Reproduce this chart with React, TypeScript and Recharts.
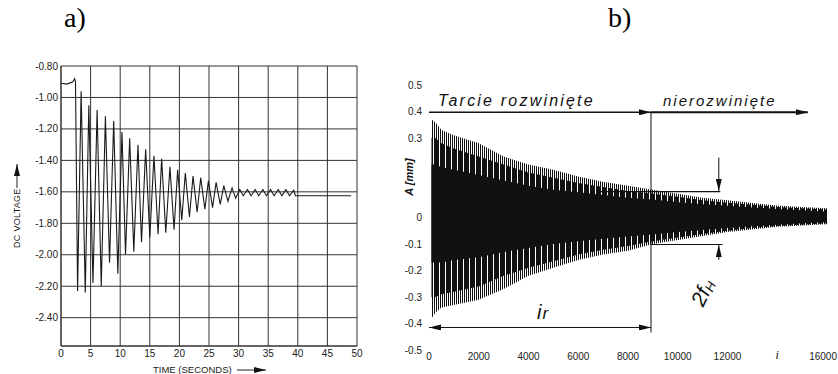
import React from 'react';
import {
  LineChart, Line, ComposedChart, Area, XAxis, YAxis, CartesianGrid,
  ReferenceLine, ReferenceDot, Label,
} from 'recharts';

// ---- panel a) : DC voltage against time (peaks / troughs read off the scan)
const aTime = [
  0, 1.0, 2.0, 2.3, 2.45,
  2.8, 3.4, 4.1, 4.7, 5.4, 6.1, 6.8, 7.5, 8.2, 8.9, 9.6, 10.3, 10.9, 11.6,
  12.3, 13.0, 13.6, 14.3, 15.0, 15.7, 16.4, 17.0, 17.7, 18.4, 19.1, 19.7,
  20.4, 21.0, 21.7, 22.3, 23.0, 23.6, 24.3, 24.9, 25.6, 26.2, 26.9, 27.5,
  28.2, 28.9, 29.5, 30.2, 30.8, 31.5, 32.1, 32.8, 33.4, 34.1, 34.7, 35.4,
  36.0, 36.7, 37.3, 38.0, 38.6, 39.3, 39.6, 49.0,
];
const aVoltage = [
  -0.91, -0.915, -0.9, -0.88, -0.9,
  -2.23, -0.96, -2.24, -1.05, -2.18, -1.08, -2.2, -1.12, -2.05, -1.15, -2.12,
  -1.22, -2.0, -1.26, -1.98, -1.3, -1.92, -1.33, -1.89, -1.37, -1.87, -1.39,
  -1.86, -1.44, -1.84, -1.46, -1.78, -1.48, -1.76, -1.5, -1.73, -1.51, -1.71,
  -1.53, -1.7, -1.54, -1.68, -1.56, -1.66, -1.575, -1.64, -1.585, -1.625,
  -1.585, -1.625, -1.585, -1.625, -1.585, -1.625, -1.585, -1.625, -1.585,
  -1.625, -1.585, -1.625, -1.59, -1.625, -1.625,
];
const aTicksX = [0, 5, 10, 15, 20, 25, 30, 35, 40, 45, 50];
const aTicksY = [-0.8, -1.0, -1.2, -1.4, -1.6, -1.8, -2.0, -2.2, -2.4];

// ---- panel b) : amplitude envelope over iterations
const bIter = [100, 250, 500, 1000, 2000, 3000, 4000, 5000, 6000, 7000, 8000, 9000, 10000, 11000, 12000, 13000, 14000, 15000, 16000];
const bOuterTop = [0.37, 0.36, 0.33, 0.31, 0.28, 0.23, 0.2, 0.18, 0.155, 0.135, 0.12, 0.105, 0.09, 0.075, 0.065, 0.055, 0.045, 0.04, 0.035];
const bOuterBottom = [-0.38, -0.36, -0.34, -0.33, -0.31, -0.27, -0.22, -0.19, -0.16, -0.14, -0.125, -0.1, -0.085, -0.07, -0.055, -0.045, -0.035, -0.03, -0.025];
const bMidTop = [0.3, 0.3, 0.28, 0.26, 0.23, 0.2, 0.17, 0.15, 0.13, 0.115, 0.1, 0.09, 0.078, 0.065, 0.056, 0.048, 0.04, 0.035, 0.03];
const bMidBottom = [-0.3, -0.3, -0.29, -0.28, -0.26, -0.22, -0.19, -0.165, -0.14, -0.122, -0.108, -0.09, -0.075, -0.062, -0.05, -0.04, -0.032, -0.027, -0.022];
const bInnerTop = [0.2, 0.2, 0.19, 0.18, 0.16, 0.14, 0.12, 0.105, 0.095, 0.085, 0.075, 0.068, 0.058, 0.05, 0.044, 0.038, 0.032, 0.027, 0.022];
const bInnerBottom = [-0.17, -0.17, -0.17, -0.16, -0.15, -0.13, -0.115, -0.1, -0.09, -0.08, -0.072, -0.064, -0.055, -0.047, -0.04, -0.033, -0.027, -0.022, -0.017];
const bTicksX = [0, 2000, 4000, 6000, 8000, 10000, 12000, 14000, 16000];
const bTicksY = [0.5, 0.4, 0.3, 0.2, 0.1, 0, -0.1, -0.2, -0.3, -0.4, -0.5];

// annotation anchors (data coords)
const split = 8925;
const fhX = 11650;

const aData = aTime.map((t, k) => ({ t, v: aVoltage[k] }));
const bData = bIter.map((it, k) => ({
  it,
  outer: [bOuterBottom[k], bOuterTop[k]],
  mid: [bMidBottom[k], bMidTop[k]],
  inner: [bInnerBottom[k], bInnerTop[k]],
}));

const sans = '"Liberation Sans", Arial, sans-serif';
const ink = '#111';

const arrow = (start: boolean, end: boolean, w = 1) => (p: any) => (
  <line
    x1={p.x1} y1={p.y1} x2={p.x2} y2={p.y2}
    stroke={ink} strokeWidth={w}
    markerStart={start ? 'url(#arrowHead)' : undefined}
    markerEnd={end ? 'url(#arrowHead)' : undefined}
  />
);

const note = (txt: React.ReactNode, size: number, anchor = 'start', rot = 0, spacing = 0) => (p: any) => (
  <text
    x={p.cx} y={p.cy} fontFamily={sans} fontStyle="italic" fontSize={size}
    textAnchor={anchor} letterSpacing={spacing} fill={ink}
    transform={rot ? `rotate(${rot} ${p.cx} ${p.cy})` : undefined}
  >
    {txt}
  </text>
);

const BTick = (props: any) => {
  const { x, y, payload } = props;
  if (payload.value === 14000) {
    return <text x={x} y={y + 6} textAnchor="middle" fontSize={12} fontStyle="italic" fontFamily='"Liberation Serif", serif' fill={ink}>i</text>;
  }
  const last = payload.value === 16000;
  return (
    <text x={last ? x + 10 : x} y={y} dy="0.71em" textAnchor={last ? 'end' : 'middle'} fontSize={10} fontFamily={sans} fill="#222">
      {payload.value}
    </text>
  );
};

export default function App() {
  return (
    <div style={{ position: 'absolute', left: 0, top: 0, width: 838, height: 374, background: '#fff', overflow: 'hidden' }}>
      <svg width={0} height={0} style={{ position: 'absolute' }}>
        <defs>
          <marker id="arrowHead" viewBox="0 0 12 6" markerWidth={12} markerHeight={6} refX={12} refY={3} orient="auto-start-reverse" markerUnits="userSpaceOnUse">
            <path d="M0,0 L12,3 L0,6 z" fill={ink} />
          </marker>
          <pattern id="spikesLight" width={2} height={8} patternUnits="userSpaceOnUse">
            <rect width={1} height={8} fill={ink} />
          </pattern>
          <pattern id="spikesDense" width={3} height={8} patternUnits="userSpaceOnUse">
            <rect width={2} height={8} fill={ink} />
          </pattern>
        </defs>
      </svg>

      <div style={{ position: 'absolute', left: 64, top: 2, fontFamily: '"Liberation Serif", serif', fontSize: 28 }}>a)</div>
      <div style={{ position: 'absolute', left: 608, top: 2, fontFamily: '"Liberation Serif", serif', fontSize: 28 }}>b)</div>

      <div style={{ position: 'absolute', left: 0, top: 0 }}>
        <LineChart width={380} height={374} data={aData} margin={{ top: 66, right: 23, bottom: 0, left: 0 }}>
          <CartesianGrid stroke="#333" strokeWidth={1} />
          <XAxis
            dataKey="t" type="number" domain={[0, 50]} ticks={aTicksX} interval={0}
            height={28} tickSize={0} tickMargin={4} axisLine={{ stroke: '#333' }}
            tick={{ fontSize: 10, fontFamily: sans, fill: '#222' }}
          >
            <Label
              content={(p: any) => {
                const vb = p.viewBox;
                const y = vb.y + 27;
                return (
                  <g>
                    <text x={vb.x + 92} y={y} fontSize={9.5} fontFamily={sans} fill="#222">TIME (SECONDS)</text>
                    <line x1={vb.x + 176} y1={y - 3} x2={vb.x + 205} y2={y - 3} stroke="#222" markerEnd="url(#arrowHead)" />
                  </g>
                );
              }}
            />
          </XAxis>
          <YAxis
            type="number" domain={[-2.58, -0.8]} ticks={aTicksY} interval={0}
            width={61} tickSize={0} tickMargin={3} axisLine={{ stroke: '#333' }}
            tick={{ fontSize: 10, fontFamily: sans, fill: '#222' }}
            tickFormatter={(v: number) => v.toFixed(2)}
          >
            <Label
              content={(p: any) => {
                const vb = p.viewBox;
                const cx = vb.x + 20;
                const cy = vb.y + 182;
                return (
                  <g transform={`translate(${cx} ${cy}) rotate(-90)`}>
                    <text x={0} y={0} fontSize={9} fontFamily={sans} letterSpacing={0.3} fill="#222">DC VOLTAGE</text>
                    <line x1={60} y1={-3} x2={84} y2={-3} stroke="#222" markerEnd="url(#arrowHead)" />
                  </g>
                );
              }}
            />
          </YAxis>
          <Line type="linear" dataKey="v" stroke="#1a1a1a" strokeWidth={1.1} dot={false} isAnimationActive={false} />
        </LineChart>
      </div>

      <div style={{ position: 'absolute', left: 380, top: 0 }}>
        <ComposedChart width={458} height={374} data={bData} margin={{ top: 85, right: 11, bottom: 0, left: 0 }}>
          <XAxis
            dataKey="it" type="number" domain={[0, 16000]} ticks={bTicksX} interval={0}
            height={24} tickSize={0} tickMargin={3} axisLine={false} tick={<BTick />}
          />
          <YAxis
            type="number" domain={[-0.5, 0.5]} ticks={bTicksY} interval={0}
            width={49} tickSize={0} tickMargin={7} axisLine={false}
            tick={{ fontSize: 10, fontFamily: sans, fill: '#222' }}
            tickFormatter={(v: number) => (v === 0.1 || v === 0.2 ? '' : String(v))}
          >
            <Label
              content={(p: any) => {
                const vb = p.viewBox;
                const cx = vb.x + 33;
                const cy = vb.y + 92;
                return (
                  <text x={cx} y={cy} transform={`rotate(-90 ${cx} ${cy})`} textAnchor="middle" fontSize={11} fontWeight="bold" fontStyle="italic" fontFamily={sans} fill={ink}>A [mm]</text>
                );
              }}
            />
          </YAxis>
          <Area dataKey="outer" type="linear" stroke="none" fill="url(#spikesLight)" fillOpacity={1} isAnimationActive={false} />
          <Area dataKey="mid" type="linear" stroke="none" fill="url(#spikesDense)" fillOpacity={1} isAnimationActive={false} />
          <Area dataKey="inner" type="linear" stroke="none" fill={ink} fillOpacity={1} isAnimationActive={false} />

          <ReferenceLine segment={[{ x: 0, y: 0.397 }, { x: split, y: 0.397 }]} shape={arrow(false, true, 1.4)} />
          <ReferenceLine segment={[{ x: split, y: 0.397 }, { x: 15230, y: 0.397 }]} shape={arrow(false, true, 2)} />
          <ReferenceLine segment={[{ x: split, y: 0.397 }, { x: split, y: -0.434 }]} shape={arrow(false, false, 1)} />
          <ReferenceLine segment={[{ x: 6800, y: 0.098 }, { x: fhX + 60, y: 0.098 }]} shape={arrow(false, false, 1.3)} />
          <ReferenceLine segment={[{ x: fhX, y: 0.226 }, { x: fhX, y: 0.1 }]} shape={arrow(false, true, 1)} />
          <ReferenceLine segment={[{ x: split, y: -0.102 }, { x: fhX + 150, y: -0.102 }]} shape={arrow(false, false, 1)} />
          <ReferenceLine segment={[{ x: fhX, y: -0.16 }, { x: fhX, y: -0.104 }]} shape={arrow(false, true, 1)} />
          <ReferenceLine segment={[{ x: 0, y: -0.415 }, { x: split, y: -0.415 }]} shape={arrow(true, true, 1)} />

          <ReferenceDot x={362} y={0.42} r={1} shape={note('Tarcie rozwinięte', 16, 'start', 0, 2.2)} />
          <ReferenceDot x={9407} y={0.42} r={1} shape={note('nierozwinięte', 15, 'start', 0, 2)} />
          <ReferenceDot x={4342} y={-0.383} r={1} shape={note(<>i<tspan fontSize={17} dx={1}>r</tspan></>, 20, 'start')} />
          <ReferenceDot x={11256} y={-0.295} r={1} shape={note(<>2f<tspan fontSize={13} dy={2}>H</tspan></>, 21, 'middle', -65)} />
        </ComposedChart>
      </div>
    </div>
  );
}
